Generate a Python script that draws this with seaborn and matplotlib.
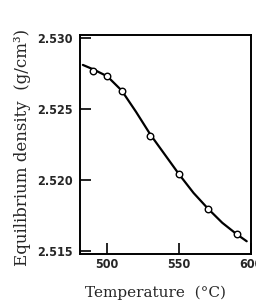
import seaborn as sns
import matplotlib.pyplot as plt

# measured points (open markers)
temp_pts = [490, 500, 510, 530, 550, 570, 590]
density_pts = [2.5277, 2.5273, 2.5263, 2.5231, 2.5204, 2.5180, 2.5162]

# smooth fitted curve
curve_temp = [483, 490, 500, 510, 520, 530, 540, 550, 560, 570, 580, 590, 597]
curve_density = [2.5281, 2.5278, 2.5273, 2.5263, 2.5248, 2.5232, 2.5218, 2.5204,
                 2.5191, 2.5180, 2.5170, 2.5162, 2.5157]

xticks = [500, 550, 600]
yticks = [2.515, 2.520, 2.525, 2.530]

sns.set_style("ticks")
plt.rcParams['font.family'] = ['DejaVu Serif']

fig = plt.figure(figsize=(2.56, 3.05), dpi=100)
ax = fig.add_axes([0.3125, 0.167, 0.668, 0.718])

sns.lineplot(x=curve_temp, y=curve_density, ax=ax, color='black', lw=1.6)
sns.scatterplot(x=temp_pts, y=density_pts, ax=ax, marker='o', s=22,
                facecolor='white', edgecolor='black', linewidth=1.0, zorder=3)

ax.set_xlim(481, 600)
ax.set_ylim(2.5148, 2.5302)
ax.set_xticks(xticks)
ax.set_yticks(yticks)
ax.set_xticklabels([str(t) for t in xticks])
ax.set_yticklabels([f"{t:.3f}" for t in yticks])

for lab in ax.get_xticklabels() + ax.get_yticklabels():
    lab.set_fontfamily(['DejaVu Sans'])
    lab.set_fontstretch('condensed')
    lab.set_fontweight('bold')
    lab.set_fontsize(9)

ax.tick_params(axis='both', direction='in', length=8, width=1.2, color='black')
ax.tick_params(axis='y', pad=5)
ax.tick_params(axis='x', pad=3)
for s in ax.spines.values():
    s.set_visible(True)
    s.set_linewidth(1.4)
    s.set_color('black')

ax.set_xlabel('Temperature  (°C)', fontsize=11)
ax.set_ylabel('Equilibrium density  (g/cm³)', fontsize=12)
ax.xaxis.set_label_coords(0.44, -0.146)
ax.yaxis.set_label_coords(-0.287, 0.486)

plt.savefig('out.png', dpi=100)
